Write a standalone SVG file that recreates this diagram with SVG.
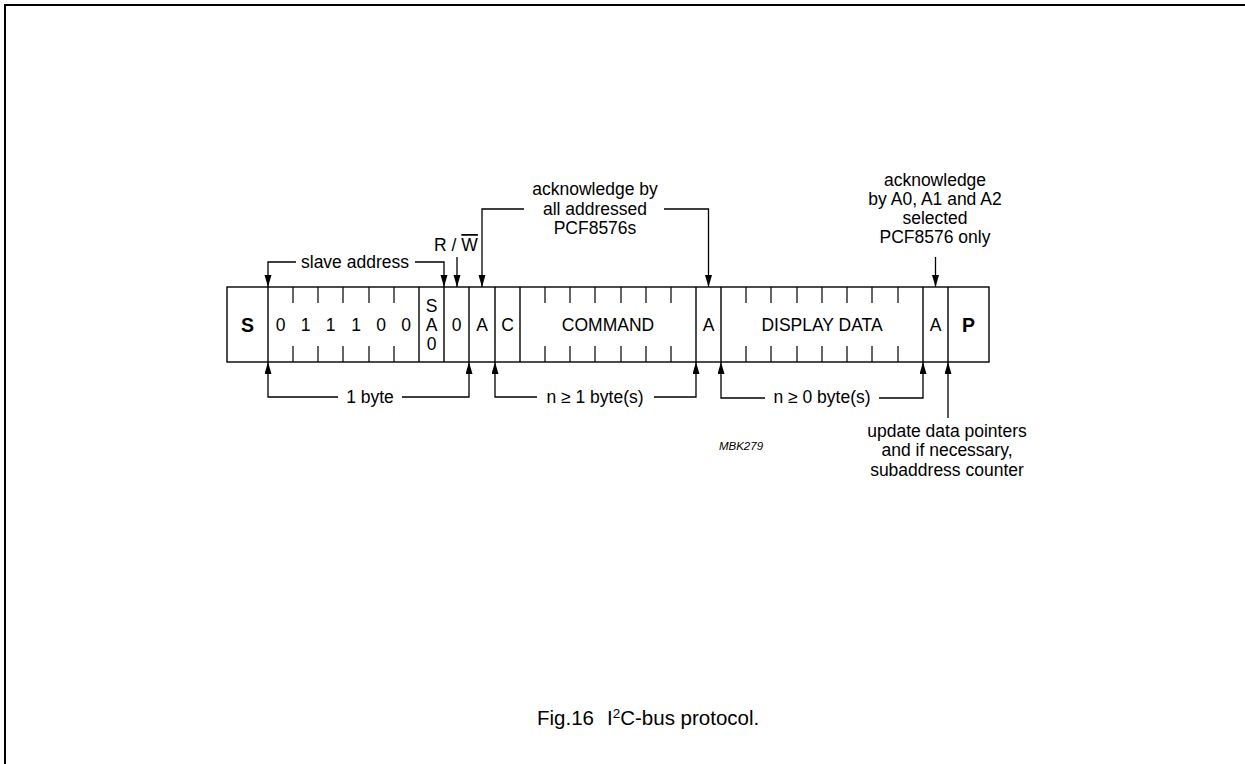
<svg xmlns="http://www.w3.org/2000/svg" width="1245" height="764" viewBox="0 0 1245 764">
<style>
text{font-family:"Liberation Sans",Arial,sans-serif;fill:#000}
.lbl{font-size:17.5px;text-anchor:middle}
.cell{font-size:17.5px;text-anchor:middle}
.bold{font-size:19.5px;font-weight:bold;text-anchor:middle}
.ln{stroke:#000;stroke-width:1.4;fill:none}
.tk{stroke:#000;stroke-width:1.2}
.con{stroke:#000;stroke-width:1.3;fill:none}
</style>
<defs>
<marker id="ah" markerUnits="userSpaceOnUse" markerWidth="13" markerHeight="8" refX="12" refY="3.5" orient="auto">
<path d="M0,0 L12,3.5 L0,7 z" fill="#000"/>
</marker>
</defs>
<rect x="0" y="0" width="1245" height="764" fill="#fff"/>
<path d="M5,764V5H1245" fill="none" stroke="#000" stroke-width="2"/>

<g id="frame-bar">
<rect x="227" y="287" width="762" height="75" class="ln"/>
<line x1="268" y1="287" x2="268" y2="362" class="ln"/>
<line x1="419" y1="287" x2="419" y2="362" class="ln"/>
<line x1="444" y1="287" x2="444" y2="362" class="ln"/>
<line x1="469" y1="287" x2="469" y2="362" class="ln"/>
<line x1="495" y1="287" x2="495" y2="362" class="ln"/>
<line x1="520" y1="287" x2="520" y2="362" class="ln"/>
<line x1="696" y1="287" x2="696" y2="362" class="ln"/>
<line x1="721" y1="287" x2="721" y2="362" class="ln"/>
<line x1="923" y1="287" x2="923" y2="362" class="ln"/>
<line x1="948" y1="287" x2="948" y2="362" class="ln"/>
<path class="tk" d="M293,287V303M318,287V303M343,287V303M369,287V303M394,287V303M293,346V362M318,346V362M343,346V362M369,346V362M394,346V362"/>
<path class="tk" d="M545,287V303M570,287V303M595,287V303M621,287V303M646,287V303M671,287V303M545,346V362M570,346V362M595,346V362M621,346V362M646,346V362M671,346V362"/>
<path class="tk" d="M746,287V303M771,287V303M797,287V303M822,287V303M847,287V303M872,287V303M898,287V303M746,346V362M771,346V362M797,346V362M822,346V362M847,346V362M872,346V362M898,346V362"/>
</g>

<g id="node-S"><text class="bold" x="247.5" y="332">S</text></g>
<g id="node-address">
<text class="cell" x="280.5" y="331">0</text>
<text class="cell" x="305.5" y="331">1</text>
<text class="cell" x="330.5" y="331">1</text>
<text class="cell" x="356" y="331">1</text>
<text class="cell" x="381" y="331">0</text>
<text class="cell" x="406" y="331">0</text>
</g>
<g id="node-SA0">
<text class="cell" x="431.5" y="312">S</text>
<text class="cell" x="431.5" y="331">A</text>
<text class="cell" x="431.5" y="350">0</text>
</g>
<g id="node-RW0"><text class="cell" x="456.5" y="331">0</text></g>
<g id="node-A1"><text class="cell" x="482" y="331">A</text></g>
<g id="node-C"><text class="cell" x="507.5" y="331">C</text></g>
<g id="node-command"><text class="cell" x="608" y="331">COMMAND</text></g>
<g id="node-A2"><text class="cell" x="708.5" y="331">A</text></g>
<g id="node-display"><text class="cell" x="822" y="331">DISPLAY DATA</text></g>
<g id="node-A3"><text class="cell" x="935.5" y="331">A</text></g>
<g id="node-P"><text class="bold" x="968.5" y="332">P</text></g>

<g id="labels">
<text class="lbl" x="355" y="268">slave address</text>
<text class="lbl" x="456" y="251">R / <tspan text-decoration="overline">W</tspan></text>
<text class="lbl" x="595" y="195">acknowledge by</text>
<text class="lbl" x="595" y="215">all addressed</text>
<text class="lbl" x="595" y="234">PCF8576s</text>
<text class="lbl" x="935" y="186">acknowledge</text>
<text class="lbl" x="935" y="205">by A0, A1 and A2</text>
<text class="lbl" x="935" y="224">selected</text>
<text class="lbl" x="935" y="243">PCF8576 only</text>
<text class="lbl" x="370" y="403">1 byte</text>
<text class="lbl" x="595" y="403">n ≥ 1 byte(s)</text>
<text class="lbl" x="822" y="403">n ≥ 0 byte(s)</text>
<text class="lbl" x="947" y="437">update data pointers</text>
<text class="lbl" x="947" y="456">and if necessary,</text>
<text class="lbl" x="947" y="476">subaddress counter</text>
<text x="741" y="450" style="font-size:11.5px;font-style:italic;text-anchor:middle">MBK279</text>
<text x="537" y="725" style="font-size:20.5px">Fig.16<tspan x="607">I</tspan><tspan dy="-7" style="font-size:13.5px">2</tspan><tspan dy="7">C-bus protocol.</tspan></text>
</g>

<g id="connectors">
<path class="con" d="M296,262H268V287" marker-end="url(#ah)"/>
<path class="con" d="M415,262H444V287" marker-end="url(#ah)"/>
<path class="con" d="M457,257V287" marker-end="url(#ah)"/>
<path class="con" d="M524,209H482V287" marker-end="url(#ah)"/>
<path class="con" d="M664,209H708.5V287" marker-end="url(#ah)"/>
<path class="con" d="M935.5,257V287" marker-end="url(#ah)"/>
<path class="con" d="M338,397H268V362" marker-end="url(#ah)"/>
<path class="con" d="M402,397H469V362" marker-end="url(#ah)"/>
<path class="con" d="M537,397H495V362" marker-end="url(#ah)"/>
<path class="con" d="M654,397H696V362" marker-end="url(#ah)"/>
<path class="con" d="M765,398H721V362" marker-end="url(#ah)"/>
<path class="con" d="M879,398H923V362" marker-end="url(#ah)"/>
<path class="con" d="M948,418V362" marker-end="url(#ah)"/>
</g>
</svg>
